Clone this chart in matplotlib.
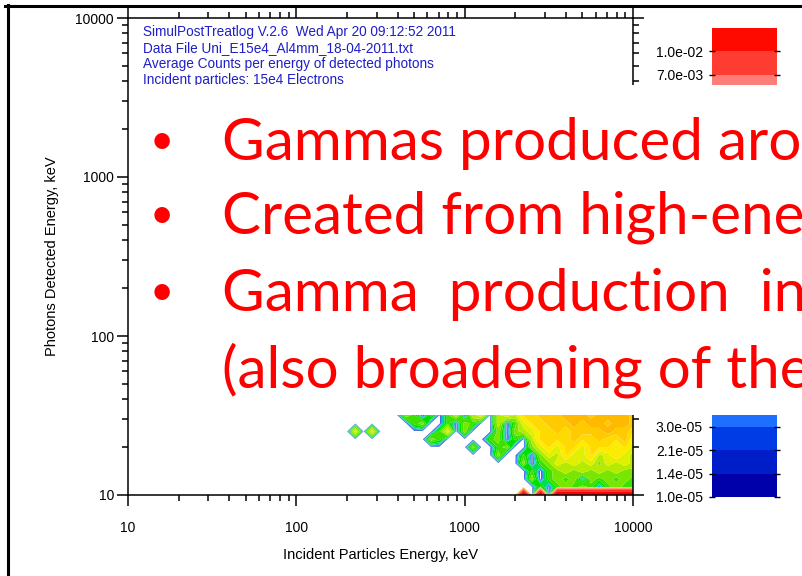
import matplotlib.pyplot as plt
import numpy as np
from matplotlib.colors import ListedColormap, BoundaryNorm
from matplotlib.patches import Rectangle
from matplotlib.lines import Line2D
from matplotlib.ticker import NullFormatter

W, H = 802, 576

# bin centres (keV)
incident_kev = [200, 224, 251, 282, 316, 355, 398, 447, 501, 562, 631, 708, 794,
                891, 1000, 1122, 1259, 1413, 1585, 1778, 1995, 2239, 2512, 2818,
                3162, 3548, 3981, 4467, 5012, 5623, 6310, 7079, 7943, 8913, 10000]
photon_kev = [10.0, 11.2, 12.6, 14.1, 15.8, 17.8, 20.0, 22.4, 25.1, 28.2, 31.6, 35.5]

# average counts, coded per cell (top row = highest photon energy)
count_codes = {'.': 0.0, '1': 2e-5, '2': 1.5e-4, '3': 2.2e-4, '4': 3.2e-4,
               '5': 4.5e-4, '6': 8e-4, '7': 1.3e-3, '8': 2.0e-3, '9': 2.5e-2}
count_rows = [
    "......23.2343545656767787878787" + "8787",
    "......." + "32.2.24.45.454" + "66777888788887",
    "........" + "23..2.32..4.2" + "56677787887887",
    ".5.5......." + "25.3...3.3" + "45667677778776",
    ".........." + "32.....23.2." + "4666676676675",
    "..............." + "3..23.." + "3565665666565",
    ".................." + "3..2." + "354655645654",
    "....................." + "3." + "235454535454",
    "......................" + "2." + "23434343433",
    "......................" + "3.232" + "31323" + "232",
    "......................." + "2.232" + "32123" + "22",
    "....................." + "9.9.9" + "999999999",
]

# colour bar levels and band colours
levels = [1.0e-5, 1.4e-5, 2.1e-5, 3.0e-5, 4.3e-5, 6.2e-5, 8.9e-5, 1.3e-4, 1.8e-4,
          2.6e-4, 3.7e-4, 5.4e-4, 7.7e-4, 1.1e-3, 1.6e-3, 2.3e-3, 3.3e-3, 4.8e-3,
          7.0e-3, 1.0e-2, 1.4e-2]
band_colors = [(0, 0, 170), (0, 30, 200), (0, 60, 230), (30, 110, 255), (0, 200, 210),
               (0, 220, 90), (0, 222, 0), (60, 225, 0), (120, 230, 0), (180, 235, 0),
               (225, 240, 0), (255, 235, 0), (255, 218, 0), (255, 203, 0), (255, 185, 0),
               (255, 155, 0), (255, 115, 0), (255, 125, 120), (255, 60, 50), (255, 10, 0)]
# only the labels that are not hidden behind the slide text
cbar_labels = ['1.0e-05', '1.4e-05', '2.1e-05', '3.0e-05'] + [''] * 14 + ['7.0e-03', '1.0e-02']

tick_values = [10, 100, 1000, 10000]
tick_labels = ['10', '100', '1000', '10000']

header_lines = ["SimulPostTreatlog V.2.6  Wed Apr 20 09:12:52 2011",
                "Data File Uni_E15e4_Al4mm_18-04-2011.txt",
                "Average Counts per energy of detected photons",
                "Incident particles: 15e4 Electrons"]

slide_lines = [(True, "Gammas produced around the target"),
               (True, "Created from high-energy electrons"),
               (True, "Gamma  production  increases"),
               (False, "(also broadening of the peak)")]
slide_baselines = [160, 234, 311, 387]

plt.rcParams['font.family'] = ['Liberation Sans', 'DejaVu Sans']


def fx(px):
    return px / W


def fy(py):
    return 1 - py / H


fig = plt.figure(figsize=(W / 100, H / 100), dpi=100)

# main plot
ax = fig.add_axes([fx(128), fy(495), fx(633) - fx(128), fy(18) - fy(495)])
ax.set_xscale('log')
ax.set_yscale('log')

rgb = [np.array(c) / 255 for c in band_colors]
cmap = ListedColormap(rgb)
cmap.set_over((1, 0, 0))
norm = BoundaryNorm(levels, cmap.N)
z = np.array([[count_codes[c] for c in row] for row in count_rows[::-1]])
ax.contourf(incident_kev, photon_kev, z, levels=levels, cmap=cmap, norm=norm,
            extend='max', antialiased=True)

ax.set_xlim(10, 10000)
ax.set_ylim(10, 10000)
ax.set_xticks(tick_values)
ax.set_xticklabels(tick_labels)
ax.set_yticks(tick_values)
ax.set_yticklabels(tick_labels)
ax.xaxis.set_minor_formatter(NullFormatter())
ax.yaxis.set_minor_formatter(NullFormatter())
ax.tick_params(which='both', direction='out', top=True, right=True, width=1.1,
               labelsize=10, colors='black')
ax.tick_params(which='major', length=8)
ax.tick_params(which='minor', length=4)
ax.tick_params(axis='x', pad=11)
ax.tick_params(axis='y', pad=2)
for s in ax.spines.values():
    s.set_linewidth(1.1)
ax.set_xlabel('Incident Particles Energy, keV', fontsize=10.5, labelpad=9)
ax.set_ylabel('Photons Detected Energy, keV', fontsize=10.5, labelpad=12)

for i, line in enumerate(header_lines):
    fig.text(fx(143), fy(32 + 16 * i), line, color=(0.12, 0.12, 0.78), fontsize=9.8,
             va='center')

# colour bar
cax = fig.add_axes([fx(712), fy(497), fx(777) - fx(712), fy(28) - fy(497)])
cax.imshow(np.arange(len(band_colors)).reshape(-1, 1), cmap=cmap, origin='lower',
           aspect='auto', extent=[0, 1, 0, len(band_colors)], interpolation='nearest')
cax.set_xticks([])
cax.set_yticks(range(len(levels) - 1))
cax.set_yticklabels(cbar_labels)
cax.tick_params(axis='y', direction='inout', length=5, width=1, left=True, right=True,
                labelsize=10, pad=4)
for s in cax.spines.values():
    s.set_visible(False)

# slide overlay
fig.add_artist(Rectangle((fx(130), fy(415)), 1.0, fy(85) - fy(415),
                         transform=fig.transFigure, facecolor='white',
                         edgecolor='none', zorder=5))
fig.add_artist(Line2D([fx(5), 1], [fy(6), fy(6)], color='black', lw=2.2, zorder=6))
fig.add_artist(Line2D([fx(8), fx(8)], [fy(5), 0], color='black', lw=2.2, zorder=6))

for (bullet, text), base in zip(slide_lines, slide_baselines):
    if bullet:
        fig.text(fx(150), fy(base - 6), '\u2022', color='red', fontsize=30, family='Lato',
                 va='baseline', zorder=7)
    fig.text(fx(222), fy(base), text, color='red', fontsize=42, family='Lato',
             va='baseline', zorder=7)

fig.savefig('out.png', dpi=100)
